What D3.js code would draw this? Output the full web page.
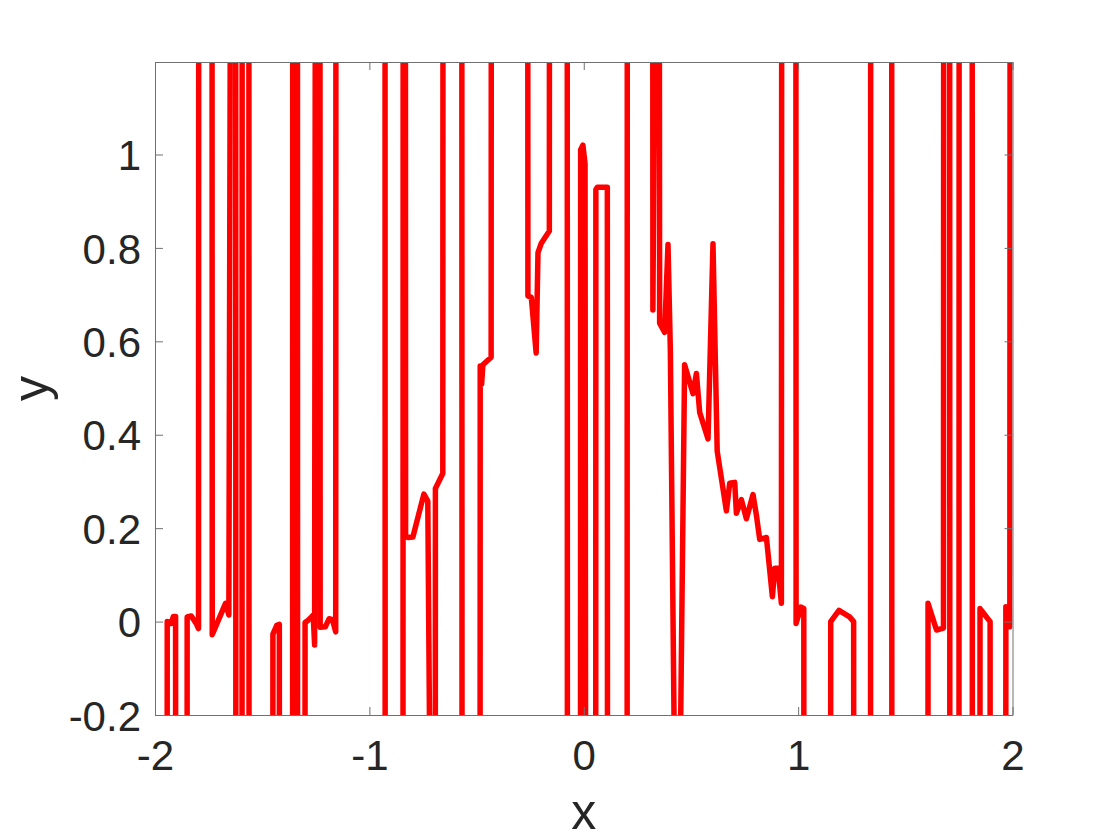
<!DOCTYPE html>
<html>
<head>
<meta charset="utf-8">
<title>y vs x</title>
<script src="https://cdnjs.cloudflare.com/ajax/libs/d3/7.8.5/d3.min.js"></script>
<style>
body {
  margin: 0px;
  background-color: #FFFFFF;
}
svg {
  display: block;
}
.axis path, .axis line {
  stroke: #707070;
  stroke-width: 1;
}
.axis text {
  font: 42px "Liberation Sans", Arial, sans-serif;
  fill: #262626;
}
.label {
  font: 50px "Liberation Sans", Arial, sans-serif;
  fill: #262626;
  text-anchor: middle;
}
.curve {
  fill: none;
  stroke: #FF0000;
  stroke-width: 5.5;
  stroke-linejoin: round;
}
</style>
</head>
<body>
<div class="target"></div>
<script>
var xLimits = [-2, 2];
var yLimits = [-0.2, 1.198];
var xTicks = [-2, -1, 0, 1, 2];
var yTicks = [-0.2, 0, 0.2, 0.4, 0.6, 0.8, 1];

// curve samples, +3 / -3 stand for values far outside the axes
var curveX = [
  -1.945, -1.943, -1.925, -1.914, -1.904, -1.902,
  -1.852, -1.850, -1.831, -1.808, -1.797, -1.795,
  -1.735, -1.733, -1.671, -1.6555, -1.640,
  -1.624, -1.622, -1.595, -1.593, -1.5625, -1.5605,
  -1.452, -1.450, -1.432, -1.420, -1.417,
  -1.359, -1.357, -1.336, -1.334,
  -1.302, -1.300, -1.285, -1.270, -1.262, -1.2555, -1.2485,
  -1.2315, -1.2295, -1.205, -1.188, -1.172, -1.157, -1.155,
  -0.9275, -0.9255,
  -0.844, -0.842, -0.833, -0.831, -0.819, -0.797, -0.7457, -0.7275, -0.719,
  -0.694, -0.692, -0.6575, -0.6555,
  -0.5695, -0.5665,
  -0.485, -0.483, -0.4765, -0.4705, -0.432, -0.430,
  -0.2625, -0.2605, -0.2445, -0.222, -0.2135, -0.198, -0.1605, -0.1585,
  -0.0775, -0.0755,
  -0.0165, -0.0145, -0.004, 0.006, 0.014,
  0.0545, 0.0565, 0.064, 0.110, 0.112,
  0.2015, 0.2035,
  0.3205, 0.3225, 0.3345, 0.3525, 0.354, 0.3775, 0.393, 0.404, 0.421, 0.4235,
  0.450, 0.4705, 0.5097, 0.5254, 0.5408, 0.5797, 0.6029, 0.6225, 0.6654, 0.6808,
  0.7042, 0.712, 0.7354, 0.7587, 0.7896, 0.806, 0.8208, 0.8521, 0.880, 0.8908,
  0.9062, 0.922, 0.925,
  0.9885, 0.9905, 1.0125, 1.0265, 1.0285,
  1.150, 1.152, 1.1905, 1.240, 1.259, 1.261,
  1.337, 1.339, 1.436, 1.438,
  1.604, 1.606, 1.6455, 1.678, 1.680, 1.7065, 1.7085,
  1.7495, 1.7515, 1.8115, 1.8135,
  1.8465, 1.8485, 1.858, 1.8955, 1.8975,
  1.967, 1.969, 1.9875, 1.990
];
var curveY = [
  -3, 0.000, -0.004, 0.011, 0.011, -3,
  -3, 0.010, 0.012, -0.004, -0.015, 3,
  3, -0.028, 0.039, 0.014, 3,
  3, -3, -3, 3, 3, -3,
  -3, -0.027, -0.008, -0.006, -3,
  -3, 3, 3, -3,
  -3, -0.002, 0.003, 0.010, 0.014, -0.050, 3,
  3, -0.012, -0.011, 0.006, 0.004, -0.022, 3,
  3, -3,
  -3, 3, 3, 0.183, 0.180, 0.181, 0.273, 0.258, -0.25,
  -3, 0.285, 0.317, 3,
  3, -3,
  -3, 0.547, 0.508, 0.550, 0.566, 3,
  3, 0.697, 0.694, 0.575, 0.790, 0.810, 0.836, 3,
  3, -3,
  -3, 1.010, 1.020, 0.980, -3,
  -3, 0.925, 0.930, 0.930, -3,
  -3, 3,
  3, 0.667, 1.5, 1.5, 0.639, 0.619, 0.8075, 0.580, -0.200, -0.3,
  -0.3, 0.550, 0.488, 0.531, 0.448, 0.391, 0.809, 0.365, 0.237, 0.296,
  0.298, 0.232, 0.261, 0.220, 0.272, 0.226, 0.176, 0.180, 0.053, 0.114,
  0.114, 0.039, 3,
  3, -0.004, 0.031, 0.028, -3,
  -3, 0.000, 0.024, 0.010, 0.000, -3,
  -3, 3, 3, -3,
  -3, 0.039, -0.018, -0.014, 3, 3, -3,
  -3, 3, 3, -3,
  -3, 0.028, 0.022, 0.000, -3,
  -3, 0.032, -0.011, 3
];

drawPlot('.target');

function drawPlot(target) {
  var margin = {top: 62, right: 107.5, bottom: 125, left: 155},
    width = 1120 - margin.left - margin.right,
    height = 840 - margin.top - margin.bottom;

  var svg = d3.select(target)
    .append('svg')
      .attr('width', 1120)
      .attr('height', 840);

  var g = svg.append('g')
    .attr('transform', 'translate(' + margin.left + ',' + margin.top + ')');

  var x = d3.scaleLinear().domain(xLimits).range([0, width]);
  var y = d3.scaleLinear().domain(yLimits).range([height, 0]);
  var fmt = function(d) { return String(d); };

  g.append('clipPath')
    .attr('id', 'plot-clip')
    .append('rect')
      .attr('x', 0)
      .attr('y', 0)
      .attr('width', width)
      .attr('height', height);

  var line = d3.line()
    .x(function(d) { return x(d[0]); })
    .y(function(d) { return y(d[1]); });

  g.append('path')
    .datum(d3.zip(curveX, curveY))
    .attr('class', 'curve')
    .attr('clip-path', 'url(#plot-clip)')
    .attr('d', line);

  // box with inward ticks on all four sides
  g.append('g')
    .attr('class', 'axis')
    .attr('transform', 'translate(0,' + height + ')')
    .call(d3.axisBottom(x).tickValues(xTicks).tickFormat(fmt)
      .tickSize(-8).tickSizeOuter(0).tickPadding(25));

  g.append('g')
    .attr('class', 'axis')
    .call(d3.axisTop(x).tickValues(xTicks).tickFormat('')
      .tickSize(-8).tickSizeOuter(0));

  var left = g.append('g')
    .attr('class', 'axis')
    .call(d3.axisLeft(y).tickValues(yTicks).tickFormat(fmt)
      .tickSize(-8).tickSizeOuter(0).tickPadding(14));
  left.selectAll('text').attr('dy', '0.36em');

  g.append('g')
    .attr('class', 'axis')
    .attr('transform', 'translate(' + width + ',0)')
    .call(d3.axisRight(y).tickValues(yTicks).tickFormat('')
      .tickSize(-8).tickSizeOuter(0));

  svg.selectAll('.axis .domain').attr('stroke', '#707070');

  svg.append('text')
    .attr('class', 'label')
    .attr('x', margin.left + width / 2)
    .attr('y', 829)
    .text('x');

  svg.append('text')
    .attr('class', 'label')
    .attr('transform', 'translate(47.5,' + (margin.top + height / 2) + ') rotate(-90)')
    .text('y');
}
</script>
</body>
</html>
